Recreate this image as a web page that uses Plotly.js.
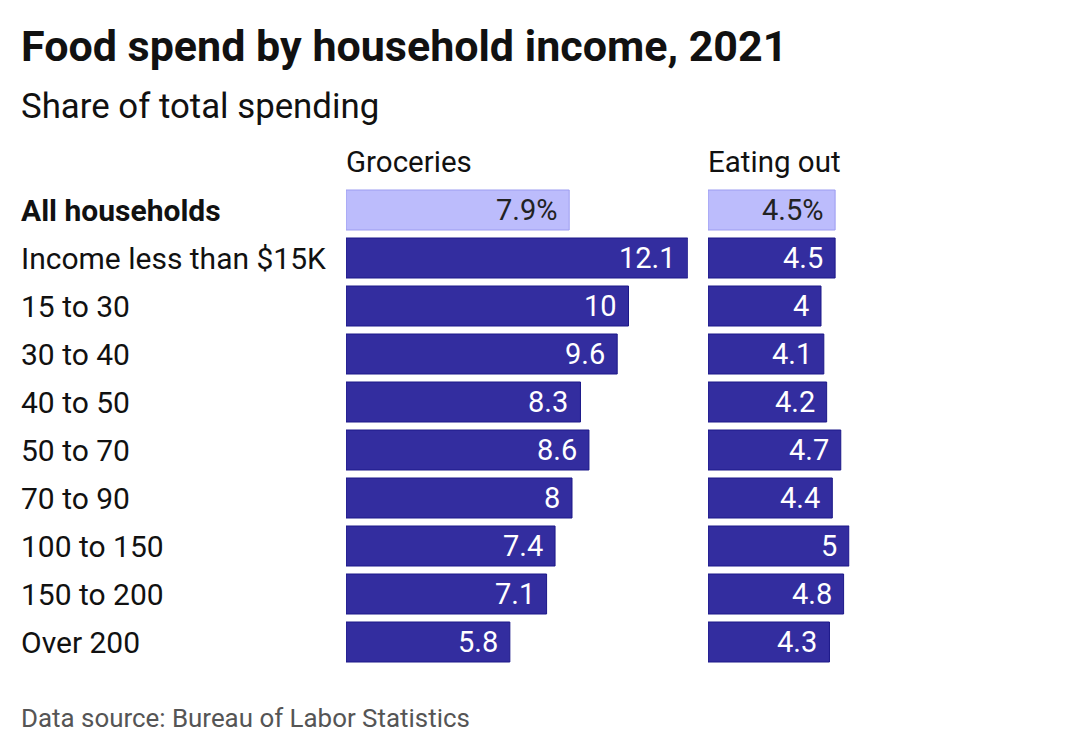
<!DOCTYPE html>
<html>
<head>
<meta charset="utf-8">
<script src="https://cdn.plot.ly/plotly-3.0.1.min.js"></script>
<style>html,body{margin:0;padding:0;background:#fff;}#chart{width:1080px;height:752px;}</style>
</head>
<body>
<div id="chart"></div>
<script>
const categories = ['All households','Income less than $15K','15 to 30','30 to 40','40 to 50','50 to 70','70 to 90','100 to 150','150 to 200','Over 200'];
const groceries = [7.9, 12.1, 10, 9.6, 8.3, 8.6, 8, 7.4, 7.1, 5.8];
const eatingOut = [4.5, 4.5, 4, 4.1, 4.2, 4.7, 4.4, 5, 4.8, 4.3];
const panelTitles = ['Groceries', 'Eating out'];
const titleText = 'Food spend by household income, 2021';
const subtitleText = 'Share of total spending';
const sourceText = 'Data source: Bureau of Labor Statistics';

const W = 1080, H = 752;
const PPU = 28.25;
const FONT = 'Roboto, "Noto Sans", sans-serif';
const DARK = '#332d9f', DARK_LINE = '#1c1889';
const LIGHT = '#bcbcfc', LIGHT_LINE = '#9c9cf0';

const fill = categories.map((c, i) => i === 0 ? LIGHT : DARK);
const line = categories.map((c, i) => i === 0 ? LIGHT_LINE : DARK_LINE);
const fmt = (v, i) => i === 0 ? v + '%' : String(v);

const gMax = Math.max(...groceries), eMax = Math.max(...eatingOut);
const g0 = 346, e0 = 708;

const traces = [
  {type:'bar', orientation:'h', x: groceries, y: categories, xaxis:'x', yaxis:'y',
   marker:{color: fill, line:{color: line, width:1}}, hoverinfo:'skip', showlegend:false},
  {type:'bar', orientation:'h', x: eatingOut, y: categories, xaxis:'x2', yaxis:'y',
   marker:{color: fill, line:{color: line, width:1}}, hoverinfo:'skip', showlegend:false}
];

const ann = [];
const py = p => 1 - p / H;
const px = p => p / W;
ann.push({text:'<b>' + titleText + '</b>', xref:'paper', yref:'paper', x:px(19), y:py(46), xanchor:'left', yanchor:'middle', showarrow:false, font:{family:FONT, size:43, color:'#111'}});
ann.push({text:subtitleText, xref:'paper', yref:'paper', x:px(19), y:py(106), xanchor:'left', yanchor:'middle', showarrow:false, font:{family:FONT, size:34.8, color:'#111'}});
ann.push({text:panelTitles[0], xref:'paper', yref:'paper', x:px(g0 - 2), y:py(162), xanchor:'left', yanchor:'middle', showarrow:false, font:{family:FONT, size:29.5, color:'#111'}});
ann.push({text:panelTitles[1], xref:'paper', yref:'paper', x:px(e0 - 2), y:py(162), xanchor:'left', yanchor:'middle', showarrow:false, font:{family:FONT, size:29.5, color:'#111'}});
ann.push({text:sourceText, xref:'paper', yref:'paper', x:px(19), y:py(718), xanchor:'left', yanchor:'middle', showarrow:false, font:{family:FONT, size:25.9, color:'#555'}});

categories.forEach((c, i) => {
  ann.push({text: i === 0 ? '<b>' + c + '</b>' : c, xref:'paper', yref:'y', x:px(19), y:c, xanchor:'left', yanchor:'middle', showarrow:false, font:{family:FONT, size:30, color:'#111'}});
  const col = i === 0 ? '#222' : '#fff';
  ann.push({text: fmt(groceries[i], i), xref:'x', yref:'y', x:groceries[i], y:c, xanchor:'right', yanchor:'middle', xshift:-10, showarrow:false, font:{family:FONT, size:29, color:col}});
  ann.push({text: fmt(eatingOut[i], i), xref:'x2', yref:'y', x:eatingOut[i], y:c, xanchor:'right', yanchor:'middle', xshift:-10, showarrow:false, font:{family:FONT, size:29, color:col}});
});

const hidden = {showgrid:false, zeroline:false, showticklabels:false, showline:false, ticks:'', fixedrange:true};
const layout = {
  width:W, height:H, margin:{l:0, r:0, t:0, b:0},
  paper_bgcolor:'#fff', plot_bgcolor:'#fff',
  bargap: 8/48,
  xaxis: Object.assign({}, hidden, {domain:[px(g0), px(g0 + gMax * PPU)], range:[0, gMax]}),
  xaxis2: Object.assign({}, hidden, {domain:[px(e0), px(e0 + eMax * PPU)], range:[0, eMax], anchor:'y'}),
  yaxis: Object.assign({}, hidden, {type:'category', domain:[py(666), py(186)], range:[categories.length - 0.5, -0.5]}),
  annotations: ann,
  showlegend:false
};
Plotly.newPlot('chart', traces, layout, {staticPlot:true, displayModeBar:false});
</script>
</body>
</html>
